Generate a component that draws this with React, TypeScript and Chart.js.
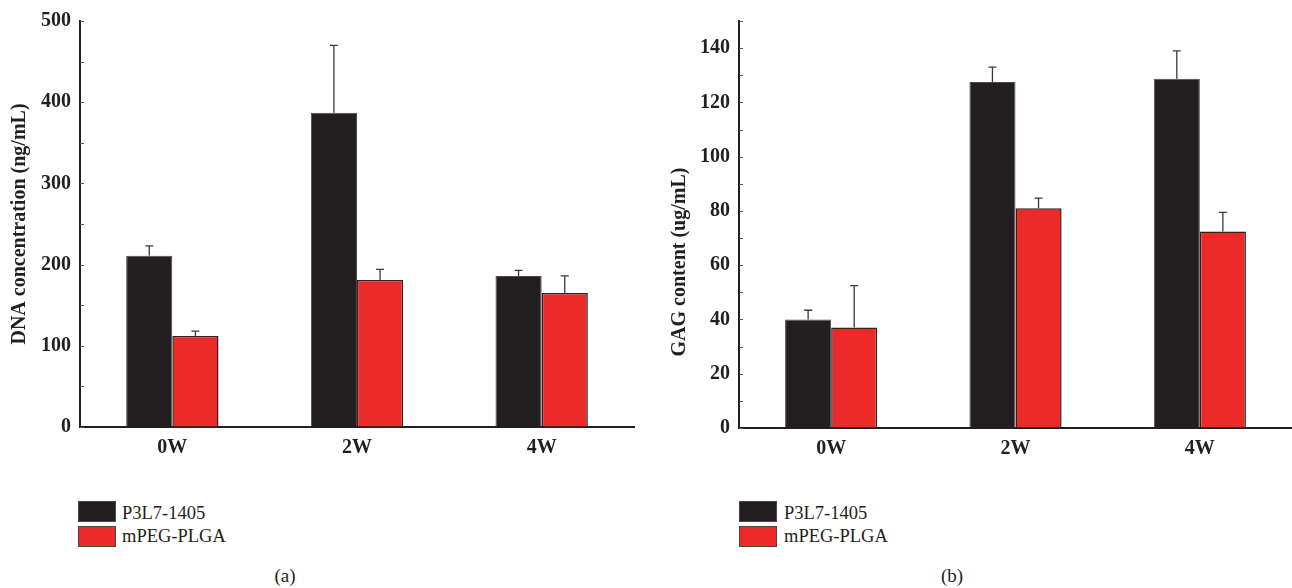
import React, { useEffect, useRef } from "react";
import { Chart, registerables } from "chart.js";

Chart.register(...registerables);

// ---------- data ----------
const categories = ["0W", "2W", "4W"];
const seriesNames = ["P3L7-1405", "mPEG-PLGA"];

const dnaP3L7 = [211, 387, 186];
const dnaP3L7Err = [12, 83, 7];
const dnaMPEG = [112, 181, 165];
const dnaMPEGErr = [6, 13, 21];

const gagP3L7 = [40, 127.5, 128.7];
const gagP3L7Err = [3.4, 5.5, 10.3];
const gagMPEG = [37, 81, 72.4];
const gagMPEGErr = [15.5, 3.7, 7.1];

const dnaTitle = "DNA concentration (ng/mL)";
const gagTitle = "GAG content (ug/mL)";
const captions = ["(a)", "(b)"];

// ---------- style ----------
const SERIF = "'Liberation Serif', 'Times New Roman', serif";
const INK = "#231f20";
const BLACK_FILL = "#231f20";
const RED_FILL = "#ec2a29";
const TITLE_FONT = { family: SERIF, size: 20, weight: "bold" as const };

const errorBarPlugin = {
  id: "errorBars",
  afterDatasetsDraw(chart: any, _args: any, opts: any) {
    const ctx = chart.ctx;
    const yScale = chart.scales.y;
    const errs: number[][] = opts.errors || [];
    chart.data.datasets.forEach((ds: any, di: number) => {
      const meta = chart.getDatasetMeta(di);
      meta.data.forEach((bar: any, i: number) => {
        const v = ds.data[i];
        const e = (errs[di] || [])[i] || 0;
        const yTop = yScale.getPixelForValue(v + e);
        const yBar = yScale.getPixelForValue(v);
        ctx.save();
        ctx.strokeStyle = "#3a3a3a";
        ctx.lineWidth = 1.3;
        ctx.beginPath();
        ctx.moveTo(bar.x, yBar);
        ctx.lineTo(bar.x, yTop);
        ctx.moveTo(bar.x - 4, yTop);
        ctx.lineTo(bar.x + 4, yTop);
        ctx.stroke();
        ctx.restore();
      });
    });
  },
};

const minorTickPlugin = {
  id: "minorTicks",
  afterDraw(chart: any, _args: any, opts: any) {
    const ctx = chart.ctx;
    const yScale = chart.scales.y;
    const step = opts.step || 10;
    const x0 = chart.chartArea.left;
    ctx.save();
    ctx.strokeStyle = "#555";
    ctx.lineWidth = 1;
    for (let v = yScale.min; v <= yScale.max + 1e-9; v += step) {
      const y = Math.round(yScale.getPixelForValue(v)) + 0.5;
      ctx.beginPath();
      ctx.moveTo(x0, y);
      ctx.lineTo(x0 + 4, y);
      ctx.stroke();
    }
    ctx.restore();
  },
};

// draws the y-axis title at a given centre (used where the title is not centred on the axis)
const sideTitlePlugin = {
  id: "sideTitle",
  afterDraw(chart: any, _args: any, opts: any) {
    if (!opts.text) return;
    const ctx = chart.ctx;
    ctx.save();
    ctx.translate(opts.x, opts.y);
    ctx.rotate(-Math.PI / 2);
    ctx.font = `bold ${TITLE_FONT.size}px ${SERIF}`;
    ctx.fillStyle = INK;
    ctx.textAlign = "center";
    ctx.textBaseline = "middle";
    ctx.fillText(opts.text, 0, 0);
    ctx.restore();
  },
};

function makeConfig(
  a: number[],
  b: number[],
  aErr: number[],
  bErr: number[],
  max: number,
  step: number,
  minor: number,
  title: string,
  titleMode: "axis" | "free",
  titlePos: { pad: number; x: number; y: number },
  yWidth: number,
  padTop: number,
  padRight: number,
  xHeight: number
): any {
  const tickFont = { family: SERIF, size: 20, weight: "bold" as const };
  return {
    type: "bar",
    data: {
      labels: categories,
      datasets: [
        {
          label: seriesNames[0],
          data: a,
          backgroundColor: BLACK_FILL,
          borderColor: "#4d4a4b",
          borderWidth: 1,
          barPercentage: 1,
          categoryPercentage: 0.5,
        },
        {
          label: seriesNames[1],
          data: b,
          backgroundColor: RED_FILL,
          borderColor: "#3a1c1c",
          borderWidth: 1.5,
          barPercentage: 1,
          categoryPercentage: 0.5,
        },
      ],
    },
    options: {
      animation: false,
      responsive: false,
      maintainAspectRatio: false,
      layout: { padding: { top: padTop, right: padRight, left: 0, bottom: 0 } },
      plugins: {
        legend: { display: false },
        tooltip: { enabled: false },
        errorBars: { errors: [aErr, bErr] },
        minorTicks: { step: minor },
        sideTitle: titleMode === "free" ? { text: title, x: titlePos.x, y: titlePos.y } : { text: "" },
      },
      scales: {
        x: {
          grid: { display: true, drawOnChartArea: false, drawTicks: false },
          border: { display: true, color: INK, width: 2 },
          ticks: { font: tickFont, color: INK, padding: 9 },
          afterFit: (s: any) => {
            s.height = xHeight;
          },
        },
        y: {
          min: 0,
          max,
          grid: { display: true, drawOnChartArea: false, drawTicks: false },
          border: { display: true, color: INK, width: 2 },
          ticks: { stepSize: step, includeBounds: false, font: tickFont, color: INK, padding: 9 },
          title: {
            display: titleMode === "axis",
            text: title,
            color: INK,
            font: TITLE_FONT,
            padding: { top: titlePos.pad, bottom: 0 },
          },
          afterFit: (s: any) => {
            s.width = yWidth;
          },
        },
      },
    },
    plugins: [errorBarPlugin, minorTickPlugin, sideTitlePlugin],
  };
}

function ChartCanvas(props: { config: any; left: number; width: number; height: number }) {
  const ref = useRef<HTMLCanvasElement | null>(null);
  useEffect(() => {
    if (!ref.current) return;
    const chart = new Chart(ref.current, props.config);
    return () => chart.destroy();
  }, []);
  return (
    <canvas
      ref={ref}
      width={props.width}
      height={props.height}
      style={{ position: "absolute", left: props.left, top: 0, width: props.width, height: props.height, display: "block" }}
    />
  );
}

function Legend(props: { left: number; textLeft: number }) {
  const boxStyle = (c: string, top: number): React.CSSProperties => ({
    position: "absolute",
    left: props.left,
    top,
    width: 38,
    height: 21,
    background: c,
    boxSizing: "border-box",
    border: "1px solid #4a4546",
  });
  const textStyle = (top: number): React.CSSProperties => ({
    position: "absolute",
    left: props.textLeft,
    top,
    fontFamily: SERIF,
    fontSize: 18.5,
    lineHeight: "24px",
    color: INK,
    whiteSpace: "nowrap",
  });
  return (
    <>
      <div style={boxStyle(BLACK_FILL, 501)} />
      <div style={textStyle(501)}>{seriesNames[0]}</div>
      <div style={boxStyle(RED_FILL, 526)} />
      <div style={textStyle(524)}>{seriesNames[1]}</div>
    </>
  );
}

export default function App() {
  const leftCfg = makeConfig(
    dnaP3L7, dnaMPEG, dnaP3L7Err, dnaMPEGErr, 500, 100, 50,
    dnaTitle, "axis", { pad: 8, x: 0, y: 0 }, 80, 17, 12, 43
  );
  const rightCfg = makeConfig(
    gagP3L7, gagMPEG, gagP3L7Err, gagMPEGErr, 150, 20, 10,
    gagTitle, "free", { pad: 0, x: 34, y: 262 }, 93, 18, 0, 42
  );
  const capStyle = (cx: number): React.CSSProperties => ({
    position: "absolute",
    left: cx - 40,
    width: 80,
    top: 564,
    textAlign: "center",
    fontFamily: SERIF,
    fontSize: 19,
    lineHeight: "24px",
    color: INK,
  });
  return (
    <div style={{ position: "absolute", left: 0, top: 0, width: 1292, height: 588, background: "#fff", overflow: "hidden" }}>
      <ChartCanvas config={leftCfg} left={0} width={646} height={470} />
      <ChartCanvas config={rightCfg} left={646} width={646} height={470} />
      <Legend left={78} textLeft={122} />
      <Legend left={739} textLeft={784} />
      <div style={capStyle(285)}>{captions[0]}</div>
      <div style={capStyle(952)}>{captions[1]}</div>
    </div>
  );
}
